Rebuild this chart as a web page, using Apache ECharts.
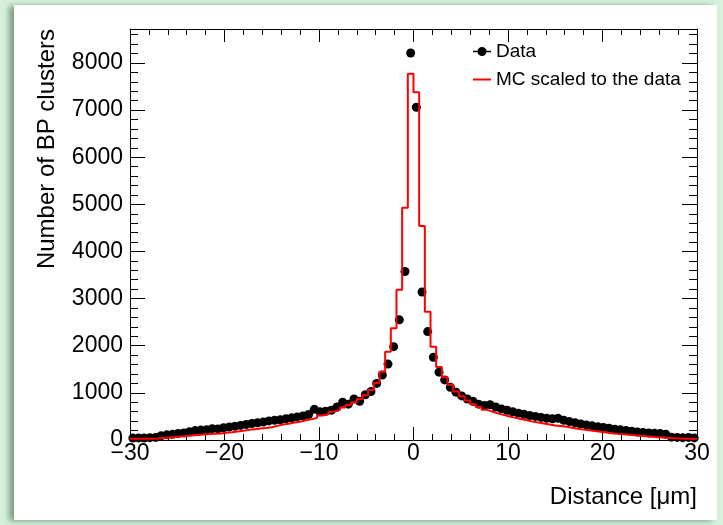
<!DOCTYPE html>
<html>
<head>
<meta charset="utf-8">
<script src="https://cdn.jsdelivr.net/npm/echarts@6/dist/echarts.min.js"></script>
<style>
html, body { margin: 0; padding: 0; background: #d7f2dc; }
#panel { position: absolute; left: 14px; top: 5px; width: 703px; height: 515px; background: #fff;
  box-shadow: -5px 1px 6px rgba(50, 90, 60, 0.55); }
#chart { position: absolute; left: 0; top: 0; width: 723px; height: 525px; }
</style>
</head>
<body>
<div id="panel"></div>
<div id="chart"></div>
<script>
// 100 bins of 0.6 um from -30 to 30
const xMin = -30, xMax = 30, binWidth = 0.6;
const yMax = 8720;

const dataCounts = [
  40, 45, 40, 50, 55, 90, 110, 120, 140, 150,
  175, 200, 210, 215, 240, 235, 260, 275, 290, 310,
  330, 350, 365, 380, 405, 420, 430, 450, 470, 490,
  510, 540, 650, 600, 610, 630, 700, 800, 760, 870,
  820, 960, 1030, 1200, 1380, 1610, 1980, 2550, 3575, 8210,
  7060, 3140, 2300, 1755, 1440, 1275, 1120, 1015, 935, 870,
  820, 760, 730, 750, 700, 660, 630, 600, 570, 545,
  520, 500, 480, 460, 450, 460, 420, 390, 365, 340,
  320, 300, 280, 265, 250, 230, 215, 200, 185, 170,
  160, 150, 145, 140, 120, 60, 55, 50, 55, 45
];

const mcCounts = [
  25, 25, 28, 28, 30, 45, 55, 65, 75, 85,
  95, 105, 115, 125, 135, 140, 155, 165, 180, 195,
  215, 230, 245, 255, 270, 300, 330, 345, 370, 385,
  420, 440, 470, 520, 550, 600, 640, 690, 740, 800,
  870, 950, 1060, 1210, 1450, 1875, 2370, 3190, 4930, 7770,
  7380, 4540, 2720, 1980, 1550, 1330, 1170, 1030, 930, 840,
  760, 700, 640, 600, 560, 530, 500, 470, 445, 420,
  390, 370, 350, 330, 310, 295, 280, 260, 240, 220,
  205, 190, 175, 160, 145, 130, 120, 110, 100, 90,
  80, 70, 60, 55, 45, 35, 30, 25, 25, 20
];

const binLow = dataCounts.map((_, i) => xMin + i * binWidth);
const dataPoints = dataCounts.map((v, i) => [binLow[i] + binWidth / 2, v]);
const mcSteps = mcCounts.map((v, i) => [binLow[i], v]);
mcSteps.push([xMax, mcCounts[mcCounts.length - 1]]);

const font = 'Liberation Sans, Arial, Helvetica, sans-serif';
const black = '#000';
const minus = v => String(v).replace('-', '\u2212');

function xAx(pos, withLabels) {
  return {
    type: 'value', min: xMin, max: xMax, interval: 10, position: pos,
    axisLine: { onZero: false, lineStyle: { color: black, width: 1 } },
    axisTick: { inside: true, length: 13, lineStyle: { color: black } },
    minorTick: { show: true, splitNumber: 5, length: 6, lineStyle: { color: black } },
    splitLine: { show: false },
    axisLabel: { show: withLabels, margin: 2, fontSize: 23, color: black, fontFamily: font, formatter: minus }
  };
}

function yAx(pos, step, tickLen, withLine) {
  return {
    type: 'value', min: 0, max: yMax, interval: step, position: pos,
    axisLine: { show: withLine, onZero: false, lineStyle: { color: black, width: 1 } },
    axisTick: { inside: true, length: tickLen, lineStyle: { color: black } },
    splitLine: { show: false },
    axisLabel: { show: false }
  };
}

const chart = echarts.init(document.getElementById('chart'));

const bottomX = xAx('bottom', true);
bottomX.name = 'Distance [μm]';
bottomX.nameLocation = 'end';
bottomX.nameGap = 0;
bottomX.nameTextStyle = { align: 'right', verticalAlign: 'top', padding: [45, 0, 0, 0],
  fontSize: 24, color: black, fontFamily: font };

const leftY = yAx('left', 1000, 15, true);
leftY.axisLabel = { show: true, showMaxLabel: false, margin: 7, fontSize: 23, color: black,
  fontFamily: font, formatter: v => String(v) };
leftY.name = 'Number of BP clusters';
leftY.nameLocation = 'end';
leftY.nameRotate = 90;
leftY.nameGap = 0;
leftY.nameTextStyle = { align: 'right', verticalAlign: 'bottom', padding: [0, 0, 71, 0],
  fontSize: 24, color: black, fontFamily: font };

chart.setOption({
  animation: false,
  grid: { left: 130, right: 26, top: 29, bottom: 85 },
  legend: {
    orient: 'vertical', left: 467, top: 37,
    itemWidth: 18, itemHeight: 9, itemGap: 9,
    textStyle: { fontSize: 19, color: black, fontFamily: font },
    data: [
      { name: 'Data', icon: 'path://M0,3.8L18,3.8L18,5.2L0,5.2Z M13.5,4.5A4.5,4.5,0,1,1,4.5,4.5A4.5,4.5,0,1,1,13.5,4.5Z' },
      { name: 'MC scaled to the data', itemStyle: { opacity: 0 } }
    ]
  },
  xAxis: [bottomX, xAx('top', false)],
  yAxis: [leftY, yAx('left', 200, 8, false), yAx('right', 1000, 15, true), yAx('right', 200, 8, false)],
  series: [
    {
      name: 'Data', type: 'scatter', xAxisIndex: 0, yAxisIndex: 0,
      data: dataPoints, symbol: 'circle', symbolSize: 9,
      itemStyle: { color: black, opacity: 1 }, z: 2
    },
    {
      name: 'MC scaled to the data', type: 'line', xAxisIndex: 0, yAxisIndex: 0,
      step: 'end', data: mcSteps, symbol: 'none',
      lineStyle: { color: '#ff0000', width: 2 }, itemStyle: { color: '#ff0000' }, z: 3
    }
  ]
});
</script>
</body>
</html>
